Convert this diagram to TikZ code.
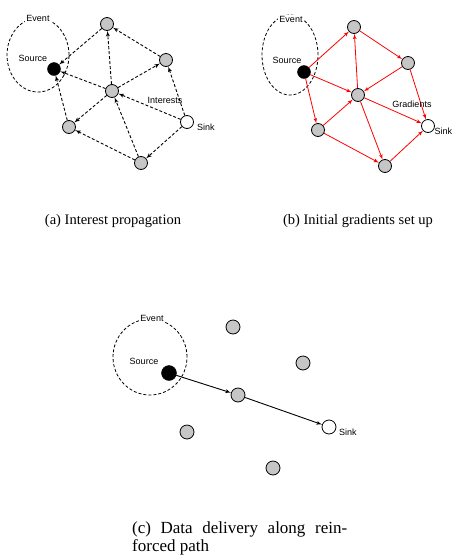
\documentclass[tikz,border=0pt]{standalone}
\usepackage{fontspec}
\setmainfont{Liberation Serif}
\setsansfont{Liberation Sans}
\usepackage{tikz}
\usetikzlibrary{shapes,arrows}
\tikzstyle{sensor} = [circle, draw, line width=0.8pt, fill=gray!45, inner sep=0pt, minimum size=13pt]
\tikzstyle{sinknode} = [circle, draw, line width=0.8pt, fill=white, inner sep=0pt, minimum size=13pt]
\tikzstyle{sourcenode} = [circle, draw, fill=black, inner sep=0pt, minimum size=13pt]
\tikzstyle{event} = [ellipse, draw, dashed, dash pattern=on 3pt off 2pt, line width=0.8pt, inner sep=0pt]
\tikzstyle{lbl} = [font=\fontsize{9}{10}\selectfont\sffamily, inner sep=1pt]
\tikzstyle{caption} = [font=\fontsize{14.5}{16}\selectfont, inner sep=0pt]
\tikzstyle{interest} = [draw, dash pattern=on 3pt off 2pt, line width=0.9pt, -latex']
\tikzstyle{gradient} = [draw, red, line width=0.8pt, -latex']
\tikzstyle{data} = [draw, line width=0.9pt, -latex']

\begin{document}
\begin{tikzpicture}[x=1pt, y=-1pt]
\useasboundingbox (0,0) rectangle (453,558);
% (a) interest propagation
\node [event, minimum width=62pt, minimum height=74pt] (evA) at (38,55) {};
\node [lbl, fill=white] (evtA) at (38,18) {Event};
\node [lbl] (srctA) at (33,58) {Source};
\node [sourcenode] (srcA) at (54,69) {};
\node [sensor] (topA) at (107,24) {};
\node [sensor] (rtA) at (166,60) {};
\node [sensor] (cA) at (112,91) {};
\node [sensor] (lbA) at (69,127) {};
\node [sensor] (botA) at (141,163) {};
\node [sinknode] (sinkA) at (187,122) {};
\path [interest] (sinkA) -- (rtA);
\path [interest] (sinkA) -- (cA);
\path [interest] (sinkA) -- (botA);
\path [interest] (rtA) -- (topA);
\path [interest] (cA) -- (rtA);
\path [interest] (cA) -- (topA);
\path [interest] (cA) -- (srcA);
\path [interest] (cA) -- (lbA);
\path [interest] (botA) -- (cA);
\path [interest] (botA) -- (lbA);
\path [interest] (lbA) -- (srcA);
\path [interest] (topA) -- (srcA);
\node [lbl] (intA) at (165,100) {Interests};
\node [lbl, anchor=west] (sinktA) at (196,127) {Sink};
\node [caption, anchor=base] (capA) at (113,224) {(a) Interest propagation};
% (b) initial gradients
\node [event, minimum width=56pt, minimum height=80pt] (evB) at (290,55) {};
\node [lbl, fill=white] (evtB) at (291,19) {Event};
\node [lbl] (srctB) at (287,60) {Source};
\node [sourcenode] (srcB) at (304,72) {};
\node [sensor] (topB) at (354,27) {};
\node [sensor] (rtB) at (408,63) {};
\node [sensor] (cB) at (358,95) {};
\node [sensor] (lbB) at (318,130) {};
\node [sensor] (botB) at (385,166) {};
\node [sinknode] (sinkB) at (428,126) {};
\path [gradient] (srcB) -- (topB);
\path [gradient] (topB) -- (rtB);
\path [gradient] (rtB) -- (cB);
\path [gradient] (srcB) -- (cB);
\path [gradient] (cB) -- (topB);
\path [gradient] (cB) -- (sinkB);
\path [gradient] (rtB) -- (sinkB);
\path [gradient] (srcB) -- (lbB);
\path [gradient] (lbB) -- (cB);
\path [gradient] (lbB) -- (botB);
\path [gradient] (cB) -- (botB);
\path [gradient] (botB) -- (sinkB);
\node [lbl] (gradB) at (412,104) {Gradients};
\node [lbl, anchor=west, inner sep=0pt] (sinktB) at (434.5,131) {Sink};
\node [caption, anchor=base] (capB) at (358,224) {(b) Initial gradients set up};
% (c) reinforced path
\node [event, minimum width=74pt, minimum height=76pt] (evC) at (150,357) {};
\node [lbl, fill=white] (evtC) at (152,318) {Event};
\node [lbl] (srctC) at (144,361) {Source};
\node [sourcenode, minimum size=15pt] (srcC) at (169,373) {};
\node [sensor, minimum size=14pt] (topC) at (233,327) {};
\node [sensor, minimum size=14pt] (rtC) at (303,363) {};
\node [sensor, minimum size=14pt] (cC) at (238,395) {};
\node [sensor, minimum size=14pt] (lbC) at (187,432) {};
\node [sensor, minimum size=14pt] (botC) at (273,468) {};
\node [sinknode, minimum size=14pt] (sinkC) at (329,427) {};
\path [data] (srcC) -- (cC);
\path [data] (cC) -- (sinkC);
\node [lbl, anchor=west] (sinktC) at (338,432) {Sink};
\node [caption, font=\fontsize{17}{18}\selectfont, anchor=base west] (capC) at (132,533) {\makebox[215pt][s]{(c) Data delivery along rein-}};
\node [caption, font=\fontsize{17}{18}\selectfont, anchor=base west] (capC2) at (132,551) {forced path};
\end{tikzpicture}
\end{document}
